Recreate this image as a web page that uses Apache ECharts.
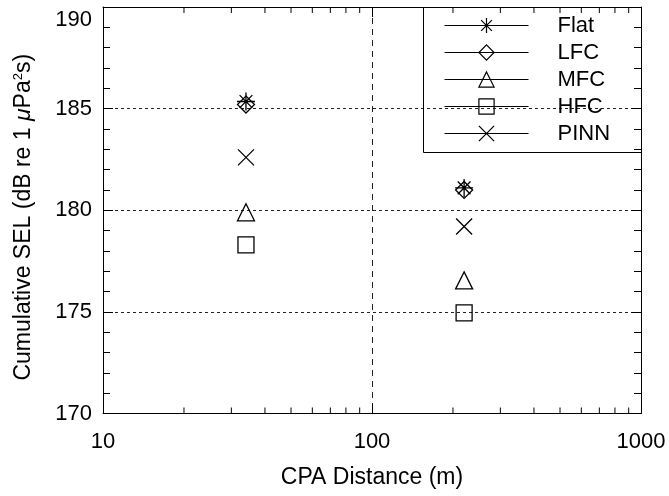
<!DOCTYPE html>
<html>
<head>
<meta charset="utf-8">
<script src="https://cdn.jsdelivr.net/npm/echarts@6/dist/echarts.min.js"></script>
<style>html,body{margin:0;padding:0;background:#fff;}#c{width:669px;height:496px;}</style>
</head>
<body>
<div id="c"></div>
<script>
// ---- data ----
const distances = [34, 220];
const seriesNames = ['Flat', 'LFC', 'MFC', 'HFC', 'PINN'];
const flatSEL = [185.35, 181.1];
const lfcSEL  = [185.2, 181.0];
const mfcSEL  = [179.9, 176.55];
const hfcSEL  = [178.3, 174.95];
const pinnSEL = [182.6, 179.2];
const xMin = 10, xMax = 1000;
const yMin = 170, yMax = 190, yInterval = 5;
const xMinorTicks = [20, 30, 40, 50, 60, 70, 80, 90, 200, 300, 400, 500, 600, 700, 800, 900];

const FONT = 'Liberation Sans';
const BLACK = '#000';
const symbols = {
  Flat: 'path://M5,0L5,10M0,5L10,5M1.46,1.46L8.54,8.54M8.54,1.46L1.46,8.54',
  LFC: 'diamond',
  MFC: 'triangle',
  HFC: 'rect',
  PINN: 'path://M0,0L10,10M10,0L0,10'
};
const values = { Flat: flatSEL, LFC: lfcSEL, MFC: mfcSEL, HFC: hfcSEL, PINN: pinnSEL };
const sizes = { Flat: 18, LFC: 17, MFC: 17, HFC: 16, PINN: 16 };

const dataSeries = seriesNames.map(name => ({
  name: name,
  type: 'line',
  xAxisIndex: 0,
  yAxisIndex: 0,
  data: distances.map((d, i) => [d, values[name][i]]),
  symbol: symbols[name],
  symbolSize: sizes[name],
  showSymbol: true,
  lineStyle: { opacity: 0, width: 0 },
  itemStyle: { color: 'rgba(0,0,0,0)', borderColor: BLACK, borderWidth: 1.3 },
  emphasis: { disabled: true },
  z: 5
}));

const minorTickSeries = {
  type: 'custom',
  xAxisIndex: 0,
  yAxisIndex: 0,
  silent: true,
  data: xMinorTicks.map(v => [v]),
  encode: { x: 0 },
  renderItem: function (params, api) {
    const x = api.value(0);
    const pb = api.coord([x, yMin]);
    const pt = api.coord([x, yMax]);
    return {
      type: 'group',
      children: [
        { type: 'line', shape: { x1: pb[0], y1: pb[1], x2: pb[0], y2: pb[1] - 6 }, style: { stroke: BLACK, lineWidth: 1 } },
        { type: 'line', shape: { x1: pt[0], y1: pt[1], x2: pt[0], y2: pt[1] + 6 }, style: { stroke: BLACK, lineWidth: 1 } }
      ]
    };
  },
  z: 4
};

const axisCommon = {
  axisLine: { show: true, lineStyle: { color: BLACK, width: 1 } },
  axisTick: { show: true, inside: true, length: 10, lineStyle: { color: BLACK } }
};

const chart = echarts.init(document.getElementById('c'), null, { renderer: 'canvas' });
chart.setOption({
  animation: false,
  backgroundColor: '#fff',
  textStyle: { fontFamily: FONT },
  grid: { left: 103, right: 28, top: 7, bottom: 82.5, containLabel: false },
  xAxis: [
    Object.assign({}, axisCommon, {
      type: 'log', logBase: 10, min: xMin, max: xMax, position: 'bottom',
      name: 'CPA Distance (m)', nameLocation: 'middle', nameGap: 53,
      nameTextStyle: { fontSize: 23, color: BLACK, fontFamily: FONT },
      axisLabel: { fontSize: 22, color: BLACK, fontFamily: FONT, margin: 17,
        formatter: function (v) { return String(v); } },
      splitLine: { show: true, lineStyle: { color: '#222', type: [6, 5], width: 1 } },
      minorTick: { show: false }
    }),
    Object.assign({}, axisCommon, {
      type: 'log', logBase: 10, min: xMin, max: xMax, position: 'top',
      axisLabel: { show: false },
      splitLine: { show: false }
    })
  ],
  yAxis: [
    Object.assign({}, axisCommon, {
      type: 'value', min: yMin, max: yMax, interval: yInterval, position: 'left',
      name: '{a|Cumulative SEL (dB re 1 }{mu|μ}{a|Pa}{s|2}{a|s)}',
      nameLocation: 'middle', nameGap: 68, nameRotate: 90,
      nameTextStyle: {
        color: BLACK, fontFamily: FONT, padding: [0, 14, 0, 0],
        rich: {
          a: { fontSize: 23, color: BLACK, fontFamily: FONT, verticalAlign: 'bottom', lineHeight: 26 },
          mu: { fontSize: 23, color: BLACK, fontFamily: FONT, fontStyle: 'italic', verticalAlign: 'bottom', lineHeight: 26 },
          s: { fontSize: 13, color: BLACK, fontFamily: FONT, verticalAlign: 'bottom', lineHeight: 26, padding: [0, 0, 10, 0] }
        }
      },
      axisLabel: {
        fontSize: 22, color: BLACK, fontFamily: FONT, margin: 11,
        formatter: function (v) { return v === yMax ? '{top|' + v + '}' : String(v); },
        rich: { top: { fontSize: 22, color: BLACK, fontFamily: FONT, padding: [26, 0, 0, 0] } }
      },
      minorTick: { show: true, splitNumber: 5, length: 7, lineStyle: { color: BLACK } },
      splitLine: { show: true, lineStyle: { color: '#222', type: [3, 3], width: 1 } }
    }),
    Object.assign({}, axisCommon, {
      type: 'value', min: yMin, max: yMax, interval: yInterval, position: 'right',
      axisLabel: { show: false },
      minorTick: { show: true, splitNumber: 5, length: 7, lineStyle: { color: BLACK } },
      splitLine: { show: false }
    })
  ],
  legend: {
    data: seriesNames,
    orient: 'vertical',
    left: 439, top: 9.5,
    itemWidth: 84, itemHeight: 19, itemGap: 5,
    selectedMode: false,
    textStyle: { fontSize: 22, color: BLACK, fontFamily: FONT, lineHeight: 19, padding: [0, 0, 0, 24] },
    lineStyle: { color: BLACK, width: 1, opacity: 1, type: 'solid' },
    itemStyle: { color: 'rgba(0,0,0,0)', borderColor: BLACK, borderWidth: 1.2, opacity: 1 }
  },
  graphic: [{
    type: 'rect', left: 423, top: 7, z: 10, silent: true,
    shape: { width: 218, height: 145 },
    style: { fill: 'rgba(0,0,0,0)', stroke: BLACK, lineWidth: 1 }
  }],
  series: dataSeries.concat([minorTickSeries])
});
</script>
</body>
</html>
